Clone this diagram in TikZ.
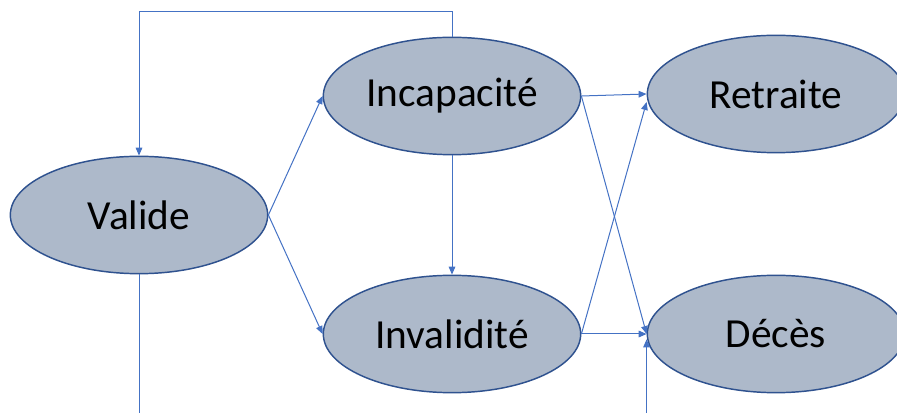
\documentclass[tikz,border=0pt]{standalone}
\usepackage{fontspec}
\setmainfont{Carlito}
\usetikzlibrary{shapes.geometric,arrows.meta,positioning}
\definecolor{etatfill}{HTML}{ADB9CA}
\definecolor{etatline}{HTML}{2F528F}
\definecolor{flux}{HTML}{4472C4}

\begin{document}
\begin{tikzpicture}[x=0.75pt, y=-0.75pt,
    font=\fontsize{31}{36}\selectfont,
    >={Triangle[length=6pt,width=5pt]},
    etat/.style={ellipse, draw=etatline, line width=1.1pt, fill=etatfill,
      minimum width=193pt, minimum height=88pt, inner sep=0pt},
    trans/.style={->, draw=flux, line width=0.75pt},
    sortie/.style={draw=flux, line width=0.75pt}
  ]
  \useasboundingbox (0,0) rectangle (897,413);
  \node[etat] (valide) at (139,215) {Valide};
  \node[etat] (incap) at (452,96) {Incapacité};
  \node[etat] (inval) at (452,334) {Invalidité};
  \node[etat] (retraite) at (776,94) {Retraite};
  \node[etat] (deces) at (776,334) {Décès};
  \coordinate (basg) at (139,413);
  \coordinate (basd) at (deces.west |- basg);
  \draw[trans] (valide.east)--(incap.west); \draw[trans] (valide.east)--(inval.west);
  \draw[trans] (incap.south)--(inval.north);
  \draw[trans] (incap.east)--(retraite.west); \draw[trans] (incap.east)--(deces.west);
  \draw[trans] (inval.east)--(deces.west); \draw[trans] (inval.east)--([yshift=-6pt]retraite.west);
  \draw[trans] (incap.north)--++(0,-25)-|(valide.north);
  \draw[sortie] (valide.south)--(basg);
  \draw[trans] (basd)--([yshift=-4pt]deces.west);
\end{tikzpicture}
\end{document}
